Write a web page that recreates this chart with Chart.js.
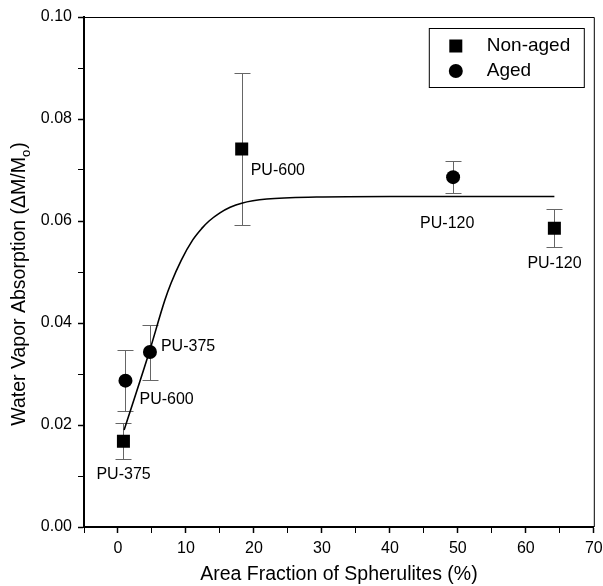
<!DOCTYPE html>
<html>
<head>
<meta charset="utf-8">
<script src="https://cdn.jsdelivr.net/npm/chart.js@4/dist/chart.umd.min.js"></script>
<style>
  html, body { margin: 0; padding: 0; background: #fff; }
  #wrap { width: 603px; height: 586px; }
</style>
</head>
<body>
<div id="wrap"><canvas id="absChart"></canvas></div>
<script>
// values
const nonAgedX = [0.8, 18.2, 64.2];
const nonAgedY = [0.0168, 0.0741, 0.0586];
const nonAgedErr = [0.0035, 0.0149, 0.0037];
const nonAgedNames = ["PU-375", "PU-600", "PU-120"];

const agedX = [1.1, 4.7, 49.3];
const agedY = [0.0287, 0.0343, 0.0686];
const agedErr = [0.0060, 0.0054, 0.0031];
const agedNames = ["PU-600", "PU-375", "PU-120"];

// fitted curve
const fitX = [0.9, 4.6, 6.9, 7.8, 9.3, 11.0, 12.3, 13.4, 15.0, 16.5, 18.2, 21.9, 29.2, 40, 64.2];
const fitY = [0.0190, 0.0343, 0.0445, 0.0478, 0.0523, 0.0563, 0.0585, 0.0600, 0.0616, 0.0627, 0.0635, 0.0643, 0.0647, 0.0648, 0.0648];

const xTicks = [0, 10, 20, 30, 40, 50, 60, 70];
const yTicks = [0.00, 0.02, 0.04, 0.06, 0.08, 0.10];

// label placement next to each marker (pixels)
const nonAgedLabelOffsets = [[-27, 33], [9, 22], [-27, 35]];
const agedLabelOffsets = [[14, 19], [11, -5], [-33, 46]];

const FONT = "'Liberation Sans', Arial, sans-serif";

function toPoints(xs, ys) {
  return xs.map((x, i) => ({ x: x, y: ys[i] }));
}

// error bars, drawn under the markers
const errorBars = {
  id: "errorBars",
  beforeDatasetsDraw(chart) {
    const ctx = chart.ctx;
    const yScale = chart.scales.y;
    chart.data.datasets.forEach((ds, di) => {
      if (!ds.errors) return;
      const meta = chart.getDatasetMeta(di);
      ctx.save();
      ctx.strokeStyle = "#666";
      ctx.lineWidth = 1;
      meta.data.forEach((pt, i) => {
        const v = ds.data[i].y;
        const top = Math.round(yScale.getPixelForValue(v + ds.errors[i])) + 0.5;
        const bot = Math.round(yScale.getPixelForValue(v - ds.errors[i])) + 0.5;
        const x = Math.round(pt.x) + 0.5;
        ctx.beginPath();
        ctx.moveTo(x, top); ctx.lineTo(x, bot);
        ctx.moveTo(x - 8, top); ctx.lineTo(x + 8, top);
        ctx.moveTo(x - 8, bot); ctx.lineTo(x + 8, bot);
        ctx.stroke();
      });
      ctx.restore();
    });
  }
};

// sample names beside the markers, frame, legend box and y title
const decorations = {
  id: "decorations",
  afterDatasetsDraw(chart) {
    const ctx = chart.ctx;
    const area = chart.chartArea;
    ctx.save();
    ctx.fillStyle = "#000";
    ctx.font = "16px " + FONT;
    ctx.textAlign = "left";
    ctx.textBaseline = "middle";
    chart.data.datasets.forEach((ds, di) => {
      if (!ds.names) return;
      const meta = chart.getDatasetMeta(di);
      meta.data.forEach((pt, i) => {
        const off = ds.labelOffsets[i];
        ctx.fillText(ds.names[i], pt.x + off[0], pt.y + off[1]);
      });
    });

    // top and right frame lines
    ctx.strokeStyle = "#000";
    ctx.lineWidth = 1;
    ctx.beginPath();
    ctx.moveTo(area.left, area.top + 0.5);
    ctx.lineTo(area.right + 0.5, area.top + 0.5);
    ctx.lineTo(area.right + 0.5, area.bottom);
    ctx.stroke();

    // legend
    const boxL = area.right - 165, boxT = area.top + 11;
    ctx.strokeRect(boxL + 0.5, boxT + 0.5, 155, 59);
    ctx.font = "19px " + FONT;
    const entries = chart.data.datasets.filter(d => d.names);
    entries.forEach((ds, i) => {
      const cy = boxT + 18 + i * 25;
      Chart.helpers.drawPoint(ctx, {
        pointStyle: ds.pointStyle,
        radius: ds.pointRadius,
        borderWidth: 0
      }, boxL + 27, cy);
      ctx.fillStyle = "#000";
      ctx.fillText(ds.label, boxL + 58, cy);
    });

    // y axis title with subscript
    const main = "Water Vapor Absorption (\u0394M/M";
    const sub = "o";
    const tail = ")";
    ctx.translate(20, (area.top + area.bottom) / 2 + 12);
    ctx.rotate(-Math.PI / 2);
    ctx.font = "19.5px " + FONT;
    const wMain = ctx.measureText(main).width;
    const wTail = ctx.measureText(tail).width;
    ctx.font = "13px " + FONT;
    const wSub = ctx.measureText(sub).width;
    let x0 = -(wMain + wSub + wTail + 1) / 2;
    ctx.font = "19.5px " + FONT;
    ctx.fillText(main, x0, 0);
    ctx.font = "13px " + FONT;
    ctx.fillText(sub, x0 + wMain, 6);
    ctx.font = "19.5px " + FONT;
    ctx.fillText(tail, x0 + wMain + wSub + 1, 0);
    ctx.restore();
  }
};

const ctx = document.getElementById("absChart").getContext("2d");

new Chart(ctx, {
  type: "scatter",
  data: {
    datasets: [
      {
        label: "Fit",
        data: toPoints(fitX, fitY),
        showLine: true,
        borderColor: "#000",
        borderWidth: 1.6,
        pointRadius: 0,
        cubicInterpolationMode: "monotone",
        order: 3
      },
      {
        label: "Non-aged",
        data: toPoints(nonAgedX, nonAgedY),
        errors: nonAgedErr,
        names: nonAgedNames,
        labelOffsets: nonAgedLabelOffsets,
        pointStyle: "rect",
        pointRadius: 9.2,
        backgroundColor: "#000",
        borderColor: "#000",
        borderWidth: 0,
        order: 1
      },
      {
        label: "Aged",
        data: toPoints(agedX, agedY),
        errors: agedErr,
        names: agedNames,
        labelOffsets: agedLabelOffsets,
        pointStyle: "circle",
        pointRadius: 7,
        backgroundColor: "#000",
        borderColor: "#000",
        borderWidth: 0,
        order: 2
      }
    ]
  },
  options: {
    responsive: true,
    maintainAspectRatio: false,
    animation: false,
    layout: { padding: { top: 17, right: 9, left: 0, bottom: 0 } },
    plugins: {
      legend: { display: false },
      tooltip: { enabled: false }
    },
    scales: {
      x: {
        type: "linear",
        min: -5,
        max: 70,
        afterFit: scale => {
          scale.height = 59;
          scale.paddingLeft = 0;
          scale.paddingRight = 0;
        },
        afterBuildTicks: scale => {
          const all = [];
          for (let v = -5; v <= 70; v += 5) all.push({ value: v });
          scale.ticks = all;
        },
        border: { color: "#000", width: 2 },
        grid: {
          drawOnChartArea: false,
          drawTicks: true,
          tickLength: 6,
          tickColor: "#000",
          tickWidth: c => (xTicks.includes(c.tick.value) ? 1.5 : 1)
        },
        ticks: {
          color: "#000",
          padding: 6,
          font: { family: FONT, size: 16 },
          callback: v => (xTicks.includes(v) ? String(v) : "")
        },
        title: {
          display: true,
          text: "Area Fraction of Spherulites (%)",
          color: "#000",
          font: { family: FONT, size: 19.5 },
          padding: { top: 0, bottom: 0 }
        }
      },
      y: {
        type: "linear",
        min: 0,
        max: 0.1,
        afterFit: scale => {
          scale.width = 84;
          scale.paddingTop = 0;
          scale.paddingBottom = 0;
        },
        afterBuildTicks: scale => {
          const all = [];
          for (let k = 0; k <= 10; k++) all.push({ value: k / 100 });
          scale.ticks = all;
        },
        border: { color: "#000", width: 2 },
        grid: {
          drawOnChartArea: false,
          drawTicks: true,
          tickLength: 6,
          tickColor: "#000",
          tickWidth: c => (Math.round(c.tick.value * 100) % 2 === 0 ? 1.5 : 1)
        },
        ticks: {
          color: "#000",
          padding: 6,
          font: { family: FONT, size: 16 },
          callback: v => (yTicks.some(t => Math.abs(t - v) < 1e-9) ? v.toFixed(2) : "")
        },
        title: { display: false }
      }
    }
  },
  plugins: [errorBars, decorations]
});
</script>
</body>
</html>
